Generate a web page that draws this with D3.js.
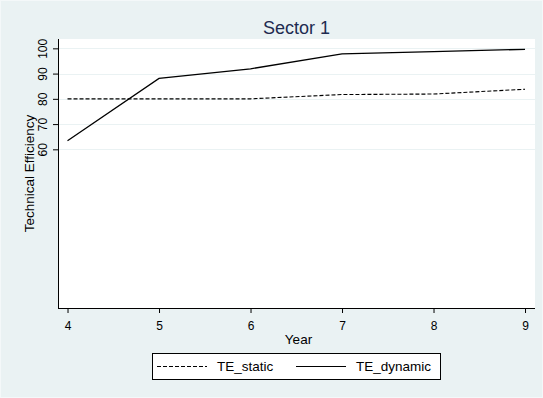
<!DOCTYPE html>
<html>
<head>
<meta charset="utf-8">
<script src="https://cdn.jsdelivr.net/npm/d3@7"></script>
<style>
html,body{margin:0;padding:0;background:#eaf2f3;}
svg{display:block;}
text{font-family:"Liberation Sans",Arial,sans-serif;}
</style>
</head>
<body>
<svg id="chart" width="543" height="398"></svg>
<script>
const years = [4, 5, 6, 7, 8, 9];
const teStatic = [80, 80, 80, 81.7, 81.9, 83.8];
const teDynamic = [63.4, 88.1, 91.9, 97.8, 98.7, 99.6];
const yTicks = [60, 70, 80, 90, 100];
const xTicks = [4, 5, 6, 7, 8, 9];
const seriesNames = ["TE_static", "TE_dynamic"];
const titleText = "Sector 1";
const xTitle = "Year";
const yTitle = "Technical Efficiency";

const W = 543, H = 398;
const plot = {l: 58, r: 535, t: 39, b: 308};
const svg = d3.select("#chart");

svg.append("rect").attr("x",0).attr("y",0).attr("width",W).attr("height",H).attr("fill","#eaf2f3");
svg.append("rect").attr("x",0.5).attr("y",0.5).attr("width",W-1).attr("height",H-1)
  .attr("fill","none").attr("stroke","#f4f8f9").attr("stroke-width",1);

const x = d3.scaleLinear().domain([3.896, 9.109]).range([plot.l, plot.r]);
const y = d3.scaleLinear().domain([-2.85, 103.7]).range([plot.b, plot.t]);

svg.append("rect").attr("x",plot.l).attr("y",plot.t).attr("width",plot.r-plot.l).attr("height",plot.b-plot.t).attr("fill","#ffffff");

// gridlines
svg.append("g").selectAll("line").data(yTicks).join("line")
  .attr("x1",plot.l).attr("x2",plot.r)
  .attr("y1",d=>Math.round(y(d))+0.5).attr("y2",d=>Math.round(y(d))+0.5)
  .attr("stroke","#eaf2f3").attr("stroke-width",1);

// axes
const yAxis = d3.axisLeft(y).tickValues(yTicks).tickSize(5).tickPadding(3).tickSizeOuter(0);
const gy = svg.append("g").attr("transform",`translate(${plot.l},0)`).call(yAxis);
gy.select(".domain").attr("d",`M0.5,${plot.t}V${plot.b}`).attr("stroke","#000");
gy.selectAll(".tick line").attr("stroke","#000");
gy.selectAll(".tick text")
  .attr("font-size",12).attr("fill","#000")
  .attr("transform","rotate(-90,-11,0)")
  .attr("x",-11).attr("dy",0).attr("y",0)
  .attr("text-anchor","middle");

const xAxis = d3.axisBottom(x).tickValues(xTicks).tickSize(5).tickPadding(8).tickSizeOuter(0).tickFormat(d3.format("d"));
const gx = svg.append("g").attr("transform",`translate(0,${plot.b})`).call(xAxis);
gx.select(".domain").attr("d",`M${plot.l},0.5H${plot.r}`).attr("stroke","#000");
gx.selectAll(".tick line").attr("stroke","#000");
gx.selectAll(".tick text").attr("font-size",12).attr("fill","#000");

// axis titles
svg.append("text").attr("x",(plot.l+plot.r)/2+2).attr("y",344).attr("text-anchor","middle")
  .attr("font-size",13.5).attr("fill","#000").text(xTitle);
svg.append("text").attr("transform",`translate(34,${(plot.t+plot.b)/2}) rotate(-90)`)
  .attr("text-anchor","middle").attr("font-size",13.5).attr("fill","#000").text(yTitle);

// title
svg.append("text").attr("x",(plot.l+plot.r)/2).attr("y",33.5).attr("text-anchor","middle")
  .attr("font-size",18).attr("fill","#1e2b50").text(titleText);

// lines
const line = d3.line().x(d=>x(d[0])).y(d=>y(d[1]));
svg.append("path").datum(years.map((d,i)=>[d,teStatic[i]])).attr("d",line)
  .attr("fill","none").attr("stroke","#000").attr("stroke-width",1.1).attr("stroke-dasharray","4,2");
svg.append("path").datum(years.map((d,i)=>[d,teDynamic[i]])).attr("d",line)
  .attr("fill","none").attr("stroke","#000").attr("stroke-width",1.3);

// legend
const lg = svg.append("g");
lg.append("rect").attr("x",152.5).attr("y",353.5).attr("width",288).attr("height",26)
  .attr("fill","#fff").attr("stroke","#000").attr("stroke-width",1);
const items = [{x0:157, dash:"4,2"}, {x0:296, dash:null}];
items.forEach((it,i)=>{
  const l = lg.append("line").attr("x1",it.x0).attr("x2",it.x0+50).attr("y1",366.5).attr("y2",366.5)
    .attr("stroke","#000").attr("stroke-width",1.1);
  if (it.dash) l.attr("stroke-dasharray",it.dash);
  lg.append("text").attr("x",it.x0+60).attr("y",371).attr("font-size",13.5).attr("fill","#000").text(seriesNames[i]);
});
</script>
</body>
</html>
